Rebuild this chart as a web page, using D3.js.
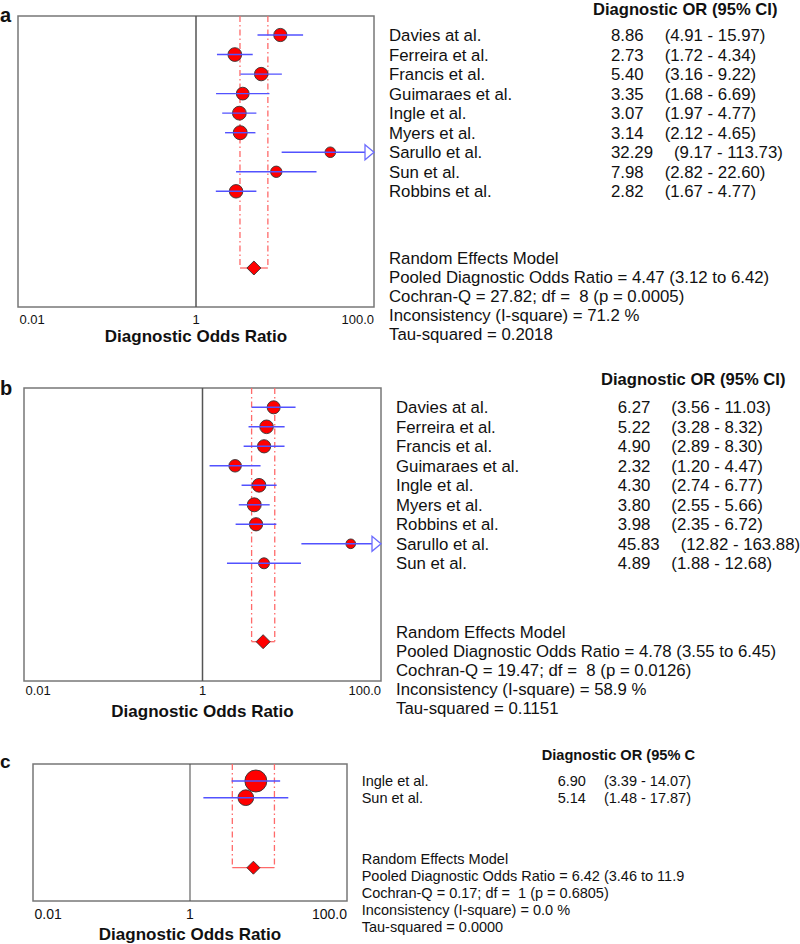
<!DOCTYPE html>
<html>
<head>
<meta charset="utf-8">
<script src="https://cdn.jsdelivr.net/npm/d3@7"></script>
<style>
  body { margin: 0; background: #fff; }
  svg text { font-family: Arial, "Liberation Sans", sans-serif; white-space: pre; fill: #111; }
</style>
</head>
<body>
<svg id="chart" width="800" height="944"></svg>
<script>
// ---- data: panel a ----
const aStudies = ["Davies at al.", "Ferreira et al.", "Francis et al.", "Guimaraes et al.", "Ingle et al.",
                  "Myers et al.", "Sarullo et al.", "Sun et al.", "Robbins et al."];
const aDor  = [8.86, 2.73, 5.40, 3.35, 3.07, 3.14, 32.29, 7.98, 2.82];
const aLow  = [4.91, 1.72, 3.16, 1.68, 1.97, 2.12, 9.17, 2.82, 1.67];
const aHigh = [15.97, 4.34, 9.22, 6.69, 4.77, 4.65, 113.73, 22.60, 4.77];
const aPooled = [4.47, 3.12, 6.42];
const aTau2 = 0.2018;
const aHeader = "Diagnostic OR (95% CI)";
const aStats = [
  "Random Effects Model",
  "Pooled Diagnostic Odds Ratio = 4.47 (3.12 to 6.42)",
  "Cochran-Q = 27.82; df =  8 (p = 0.0005)",
  "Inconsistency (I-square) = 71.2 %",
  "Tau-squared = 0.2018"
];

// ---- data: panel b ----
const bStudies = ["Davies at al.", "Ferreira et al.", "Francis et al.", "Guimaraes et al.", "Ingle et al.",
                  "Myers et al.", "Robbins et al.", "Sarullo et al.", "Sun et al."];
const bDor  = [6.27, 5.22, 4.90, 2.32, 4.30, 3.80, 3.98, 45.83, 4.89];
const bLow  = [3.56, 3.28, 2.89, 1.20, 2.74, 2.55, 2.35, 12.82, 1.88];
const bHigh = [11.03, 8.32, 8.30, 4.47, 6.77, 5.66, 6.72, 163.88, 12.68];
const bPooled = [4.78, 3.55, 6.45];
const bTau2 = 0.1151;
const bHeader = "Diagnostic OR (95% CI)";
const bStats = [
  "Random Effects Model",
  "Pooled Diagnostic Odds Ratio = 4.78 (3.55 to 6.45)",
  "Cochran-Q = 19.47; df =  8 (p = 0.0126)",
  "Inconsistency (I-square) = 58.9 %",
  "Tau-squared = 0.1151"
];

// ---- data: panel c ----
const cStudies = ["Ingle et al.", "Sun et al."];
const cDor  = [6.90, 5.14];
const cLow  = [3.39, 1.48];
const cHigh = [14.07, 17.87];
const cPooled = [6.42, 3.46, 11.9];
const cTau2 = 0.0;
const cHeader = "Diagnostic OR (95% C";
const cStats = [
  "Random Effects Model",
  "Pooled Diagnostic Odds Ratio = 6.42 (3.46 to 11.9",
  "Cochran-Q = 0.17; df =  1 (p = 0.6805)",
  "Inconsistency (I-square) = 0.0 %",
  "Tau-squared = 0.0000"
];

// axis
const tickValues = [0.01, 1, 100];
const tickLabels = ["0.01", "1", "100.0"];
const axisTitle = "Diagnostic Odds Ratio";

// ---- layout ----
const panels = [
  { letter: "a", studies: aStudies, dor: aDor, low: aLow, high: aHigh, pooled: aPooled, tau2: aTau2,
    header: aHeader, stats: aStats,
    x0: 18, x1: 374, y0: 16, y1: 307, row0: 35, rowStep: 19.54, diamondY: 268, rMax: 7, dHalf: 7,
    letterY: 21.5, letterFs: 20, tickY: 319, tickFs: 13, titleY: 336,
    nameX: 389, valX: 611, gap: 21, headX: 593, headY: 9, headFs: 16.6,
    statY: 258, statStep: 18.9, fs: 16.8 },
  { letter: "b", studies: bStudies, dor: bDor, low: bLow, high: bHigh, pooled: bPooled, tau2: bTau2,
    header: bHeader, stats: bStats,
    x0: 24, x1: 381, y0: 388, y1: 681, row0: 407.3, rowStep: 19.5, diamondY: 641.7, rMax: 7, dHalf: 7,
    letterY: 395, letterFs: 20, tickY: 690.7, tickFs: 13, titleY: 711,
    nameX: 396, valX: 617.7, gap: 21, headX: 601, headY: 379, headFs: 16.6,
    statY: 631.7, statStep: 19.1, fs: 16.8 },
  { letter: "c", studies: cStudies, dor: cDor, low: cLow, high: cHigh, pooled: cPooled, tau2: cTau2,
    header: cHeader, stats: cStats,
    x0: 33, x1: 347, y0: 764, y1: 901, row0: 781, rowStep: 16.7, diamondY: 867.7, rMax: 11, dHalf: 6.5,
    letterY: 768, letterFs: 19, tickY: 914.3, tickFs: 14, titleY: 934.3,
    nameX: 361.7, valX: 557.7, gap: 18, headX: 541.7, headY: 754.3, headFs: 14.6,
    statY: 858.3, statStep: 17.1, fs: 14.5 }
];

const svg = d3.select("#chart");
const fmt = d3.format(".2f");
const blue = "#5252ff";
const red = "#ff0000";
const pink = "#ff6a6a";

panels.forEach(p => {
  const g = svg.append("g");
  const x = d3.scaleLog().domain([0.01, 100]).range([p.x0, p.x1]);

  // random-effects weights from the CI width
  const weights = p.low.map((lo, i) => {
    const se = (Math.log(p.high[i]) - Math.log(lo)) / (2 * 1.96);
    return 1 / (se * se + p.tau2);
  });
  const r = d3.scalePow().exponent(0.3).domain([0, d3.max(weights)]).range([0, p.rMax]);
  const y = i => p.row0 + i * p.rowStep;

  // frame
  g.append("rect")
    .attr("x", p.x0).attr("y", p.y0)
    .attr("width", p.x1 - p.x0).attr("height", p.y1 - p.y0)
    .attr("fill", "none").attr("stroke", "#777").attr("stroke-width", 1.5);

  // line of no effect
  g.append("line")
    .attr("x1", x(1)).attr("x2", x(1)).attr("y1", p.y0).attr("y2", p.y1)
    .attr("stroke", "#555").attr("stroke-width", p.letter === "c" ? 1.1 : 1.5);

  // pooled CI bracket (dash-dot)
  [p.pooled[1], p.pooled[2]].forEach(v => {
    g.append("line")
      .attr("x1", x(v)).attr("x2", x(v)).attr("y1", p.y0).attr("y2", p.diamondY)
      .attr("stroke", pink).attr("stroke-width", 1.3)
      .attr("stroke-dasharray", "6,3,1.5,3");
  });
  g.append("line")
    .attr("x1", x(p.pooled[1])).attr("x2", x(p.pooled[2]))
    .attr("y1", p.diamondY).attr("y2", p.diamondY)
    .attr("stroke", pink).attr("stroke-width", 1.3);

  // study points
  g.selectAll(".pt").data(p.dor).enter().append("circle")
    .attr("cx", d => x(d)).attr("cy", (d, i) => y(i))
    .attr("r", (d, i) => r(weights[i]))
    .attr("fill", red).attr("stroke", "#333").attr("stroke-width", 0.9);

  // CI lines (drawn over the points)
  const arrowW = 9, arrowH = 7.5;
  p.dor.forEach((d, i) => {
    const clipped = p.high[i] > 100;
    const xr = clipped ? p.x1 - arrowW : x(p.high[i]);
    g.append("line")
      .attr("x1", x(p.low[i])).attr("x2", xr).attr("y1", y(i)).attr("y2", y(i))
      .attr("stroke", blue).attr("stroke-width", 1.4);
    if (clipped) {
      g.append("path")
        .attr("d", `M${p.x1 - arrowW},${y(i) - arrowH}L${p.x1},${y(i)}L${p.x1 - arrowW},${y(i) + arrowH}Z`)
        .attr("fill", "#fff").attr("stroke", "#6b6bff").attr("stroke-width", 1.3);
    }
  });

  // pooled diamond
  const cx = x(p.pooled[0]), h = p.dHalf;
  g.append("path")
    .attr("d", `M${cx - h},${p.diamondY}L${cx},${p.diamondY - h}L${cx + h},${p.diamondY}L${cx},${p.diamondY + h}Z`)
    .attr("fill", red).attr("stroke", "#333").attr("stroke-width", 0.9);

  // tick labels
  g.selectAll(".tick").data(tickValues).enter().append("text")
    .attr("x", (d, i) => i === 0 ? x(d) + 1.5 : x(d))
    .attr("y", p.tickY).attr("dy", "0.36em")
    .attr("text-anchor", (d, i) => ["start", "middle", "end"][i])
    .style("font-size", p.tickFs + "px")
    .text((d, i) => tickLabels[i]);

  // axis title
  g.append("text")
    .attr("x", (p.x0 + p.x1) / 2).attr("y", p.titleY).attr("dy", "0.36em")
    .attr("text-anchor", "middle")
    .style("font-size", "17px").style("font-weight", "bold")
    .text(axisTitle);

  // panel letter
  g.append("text")
    .attr("x", 0).attr("y", p.letterY)
    .style("font-size", p.letterFs + "px").style("font-weight", "bold")
    .text(p.letter);

  // header
  g.append("text")
    .attr("x", p.headX).attr("y", p.headY).attr("dy", "0.36em")
    .style("font-size", p.headFs + "px").style("font-weight", "bold")
    .text(p.header);

  // study names + values
  p.studies.forEach((s, i) => {
    g.append("text")
      .attr("x", p.nameX).attr("y", y(i)).attr("dy", "0.36em")
      .style("font-size", p.fs + "px")
      .text(s);
    const t = g.append("text")
      .attr("x", p.valX).attr("y", y(i)).attr("dy", "0.36em")
      .style("font-size", p.fs + "px");
    t.append("tspan").text(fmt(p.dor[i]));
    t.append("tspan").attr("dx", p.gap)
      .text(`(${fmt(p.low[i])} - ${fmt(p.high[i])})`);
  });

  // random effects summary
  p.stats.forEach((s, i) => {
    g.append("text")
      .attr("x", p.nameX).attr("y", p.statY + i * p.statStep).attr("dy", "0.36em")
      .style("font-size", p.fs + "px")
      .text(s);
  });
});
</script>
</body>
</html>
